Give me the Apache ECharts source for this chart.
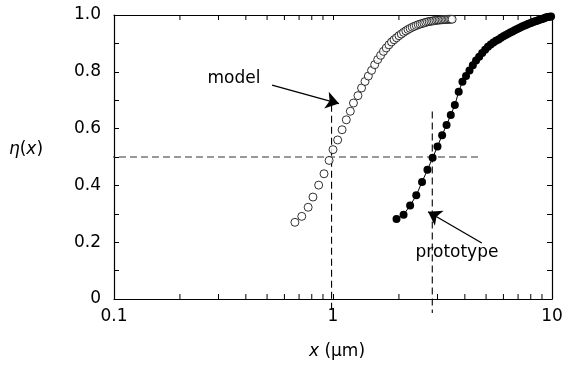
<!DOCTYPE html>
<html>
<head>
<meta charset="utf-8">
<script src="https://cdn.jsdelivr.net/npm/echarts@6/dist/echarts.min.js"></script>
<style>html,body{margin:0;padding:0;background:#fff}#c{width:566px;height:366px}</style>
</head>
<body>
<div id="c"></div>
<script>
// ---- data ----
const modelX = [0.67,0.72,0.77,0.81,0.86,0.91,0.96,1.00,1.05,1.10,1.15,1.20,1.24,1.30,1.35,1.40,
  1.45,1.50,1.55,1.60,1.65,1.70,1.75,1.80,1.85,1.90,1.95,2.00,2.05,2.10,2.15,2.20,2.25,2.30,2.35,2.40,2.45,
  2.50,2.55,2.60,2.65,2.70,2.75,2.80,2.85,2.90,2.95,3.00,3.05,3.10,3.15,3.20,3.25,3.30,3.35,3.40,3.45,3.50];
const modelY = [0.270,0.291,0.323,0.359,0.401,0.441,0.488,0.526,0.560,0.596,0.631,0.661,0.690,0.716,0.743,0.766,
  0.785,0.805,0.825,0.843,0.858,0.872,0.884,0.895,0.905,0.913,0.920,0.927,0.933,0.939,0.944,0.949,0.953,0.957,0.960,0.963,0.966,
  0.968,0.970,0.972,0.974,0.976,0.977,0.978,0.979,0.980,0.981,0.982,0.982,0.983,0.983,0.984,0.984,0.984,0.985,0.985,0.985,0.985];
const protoX = [1.95,2.10,2.25,2.40,2.55,2.70,2.85,3.00,3.15,3.30,3.45,3.60,3.75,3.90,4.05,4.20,4.35,4.50,4.65,4.80,4.95,
  5.10,5.25,5.40,5.55,5.70,5.85,6.00,6.15,6.30,6.45,6.60,6.75,6.90,7.05,7.20,7.35,7.50,7.65,7.80,7.95,
  8.10,8.25,8.40,8.55,8.70,8.85,9.00,9.15,9.30,9.45,9.60,9.75,9.90];
const protoY = [0.282,0.297,0.329,0.365,0.412,0.455,0.497,0.537,0.577,0.613,0.648,0.683,0.730,0.765,0.785,0.805,0.823,0.840,0.853,0.866,0.878,
  0.888,0.896,0.903,0.909,0.914,0.920,0.925,0.930,0.934,0.938,0.942,0.946,0.950,0.953,0.957,0.960,0.963,0.966,0.969,0.971,
  0.974,0.976,0.978,0.980,0.982,0.984,0.986,0.988,0.990,0.992,0.993,0.994,0.995];
const xTickLabels = ['0.1','1','10'];
const xMinorTicks = [0.2,0.3,0.4,0.5,0.6,0.7,0.8,0.9,2,3,4,5,6,7,8,9];
const hDash = [[0.0836,0.5],[4.69,0.5]];
const vDashModel = [[0.985,0.684],[0.985,-0.038]];
const vDashProto = [[2.84,0.66],[2.84,-0.049]];
const arrowModel = [[0.527,0.753],[1.065,0.688]];
const arrowProto = [[4.78,0.197],[2.716,0.307]];

const FONT = 'DejaVu Sans';
const zip = (a,b) => a.map((v,i)=>[v,b[i]]);

const chart = echarts.init(document.getElementById('c'), null, {renderer:'canvas'});
const axisLine = {show:true, onZero:false, lineStyle:{color:'#000', width:1.2}};
const tick = {show:true, inside:true, length:5, lineStyle:{color:'#000', width:1}};
const dashed = (d, color) => ({
  type:'line', data:d, showSymbol:false, symbol:'none', clip:false, silent:true, z:1,
  lineStyle:{color:color, width:1.1, type:[7,4]}
});
chart.setOption({
  animation:false,
  backgroundColor:'#fff',
  grid:{left:114, right:14, top:15, bottom:67, containLabel:false},
  xAxis:[
    {type:'log', logBase:10, min:0.1, max:10, position:'bottom',
      axisLine:axisLine, axisTick:tick,
      axisLabel:{show:true, margin:9, color:'#000', fontFamily:FONT, fontSize:17,
        formatter:(v)=>{const l=Math.round(Math.log10(v)); return xTickLabels[l+1];}},
      splitLine:{show:false}, minorTick:{show:false}},
    {type:'log', logBase:10, min:0.1, max:10, position:'top',
      axisLine:axisLine, axisTick:tick,
      axisLabel:{show:false}, splitLine:{show:false}}
  ],
  yAxis:[
    {type:'value', min:0, max:1, interval:0.2, position:'left',
      axisLine:axisLine, axisTick:tick,
      minorTick:{show:true, splitNumber:2, length:5, lineStyle:{color:'#000'}},
      axisLabel:{margin:13, color:'#000', fontFamily:FONT, fontSize:17,
        formatter:(v)=> v===0 ? '0' : v.toFixed(1)},
      splitLine:{show:false}},
    {type:'value', min:0, max:1, interval:0.1, position:'right',
      axisLine:axisLine, axisTick:tick,
      axisLabel:{show:false}, splitLine:{show:false}}
  ],
  graphic:[
    {type:'text', position:[26,150], style:{
      text:'{i|η}{n|(}{i|x}{n|)}', align:'center', verticalAlign:'middle',
      rich:{i:{fontFamily:FONT, fontSize:17, fontStyle:'italic', fill:'#000'},
            n:{fontFamily:FONT, fontSize:17, fill:'#000'}}}},
    {type:'text', position:[337,352], style:{
      text:'{i|x}{n| (µm)}', align:'center', verticalAlign:'middle',
      rich:{i:{fontFamily:FONT, fontSize:17, fontStyle:'italic', fill:'#000'},
            n:{fontFamily:FONT, fontSize:17, fill:'#000'}}}},
    {type:'text', position:[234,79], style:{text:'model', align:'center', verticalAlign:'middle',
      fontFamily:FONT, fontSize:17, fill:'#000'}},
    {type:'text', position:[457,253], style:{text:'prototype', align:'center', verticalAlign:'middle',
      fontFamily:FONT, fontSize:17, fill:'#000'}}
  ],
  series:[
    dashed(hDash, '#333'),
    dashed(vDashModel, '#000'),
    dashed(vDashProto, '#000'),
    {type:'custom', clip:false, silent:true, z:3,
      data:xMinorTicks.map(v=>[v]),
      renderItem:(params, api)=>{
        const v = api.value(0);
        const b = api.coord([v,0]);
        const t = api.coord([v,1]);
        return {type:'group', children:[
          {type:'line', shape:{x1:b[0], y1:b[1], x2:b[0], y2:b[1]-5}, style:{stroke:'#000', lineWidth:1}},
          {type:'line', shape:{x1:t[0], y1:t[1], x2:t[0], y2:t[1]+5}, style:{stroke:'#000', lineWidth:1}}
        ]};
      }},
    {type:'scatter', name:'model', data:zip(modelX, modelY), symbol:'circle', symbolSize:8, z:4,
      itemStyle:{color:'#fff', borderColor:'#000', borderWidth:1}},
    {type:'line', name:'prototype', data:zip(protoX, protoY), symbol:'circle', symbolSize:8,
      showAllSymbol:true, z:4, lineStyle:{color:'#000', width:1}, itemStyle:{color:'#000'}},
    {type:'lines', coordinateSystem:'cartesian2d', silent:true, z:5, clip:false,
      symbol:['none','arrow'], symbolSize:13,
      lineStyle:{color:'#000', width:1.3, opacity:1},
      data:[{coords:arrowModel},{coords:arrowProto}]}
  ]
});
</script>
</body>
</html>
